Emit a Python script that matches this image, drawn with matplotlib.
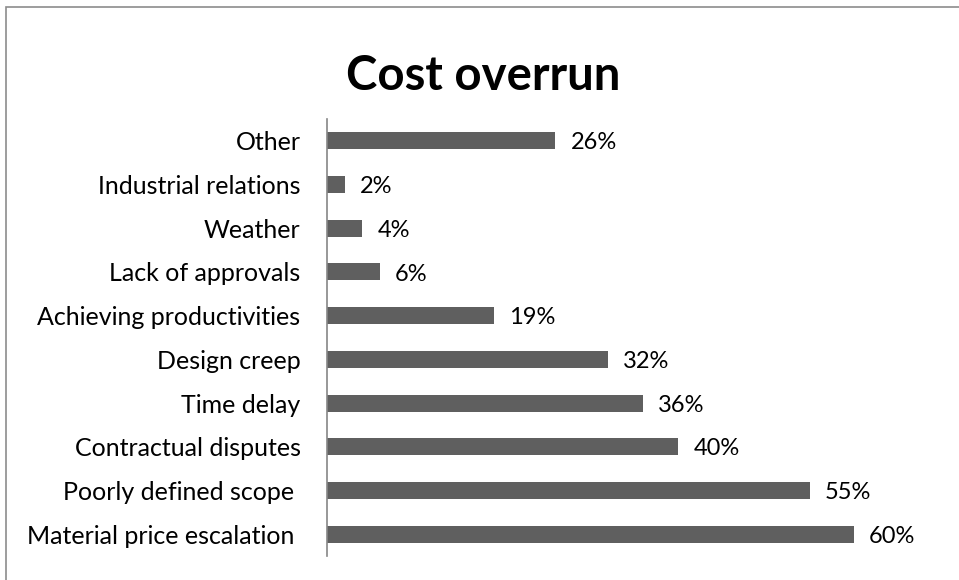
import matplotlib
matplotlib.use('Agg')
import matplotlib.pyplot as plt
from matplotlib.patches import Rectangle

plt.rcParams['font.family'] = ['Lato', 'DejaVu Sans']

# bottom to top, as barh draws them
causes = ['Material price escalation ', 'Poorly defined scope ', 'Contractual disputes',
          'Time delay', 'Design creep', 'Achieving productivities', 'Lack of approvals',
          'Weather', 'Industrial relations', 'Other']
share = [60, 55, 40, 36, 32, 19, 6, 4, 2, 26]

fig = plt.figure(figsize=(9.59, 5.80), dpi=100)
fig.patches.append(Rectangle((6 / 959, -0.1), 1.2, (580 - 7) / 580 + 0.1,
                             transform=fig.transFigure, fill=False,
                             edgecolor='#8c8c8c', linewidth=1.2))

ax = fig.add_axes([327 / 959, 24 / 580, (70 * 8.78) / 959, 437 / 580])
pos = range(len(causes))
ax.barh(pos, share, height=0.39, color='#5f5f5f')
for y, v in zip(pos, share):
    ax.annotate(f'{v}%', (v, y), xytext=(11, -1.5), textcoords='offset points',
                va='center', ha='left', fontsize=17, color='black')

ax.set_xlim(0, 70)
ax.set_ylim(-0.5, len(causes) - 0.5)
ax.set_yticks(list(pos))
ax.set_yticklabels(causes, fontsize=18)
ax.tick_params(axis='y', length=0, pad=19)
ax.set_xticks([])
for s in ['top', 'right', 'bottom']:
    ax.spines[s].set_visible(False)
ax.spines['left'].set_color('#868686')
ax.spines['left'].set_linewidth(1.2)

fig.text(483 / 959, 1 - 76 / 580, 'Cost overrun', ha='center', va='center',
         fontsize=34, fontweight='bold')

fig.savefig('out.png', dpi=100)
